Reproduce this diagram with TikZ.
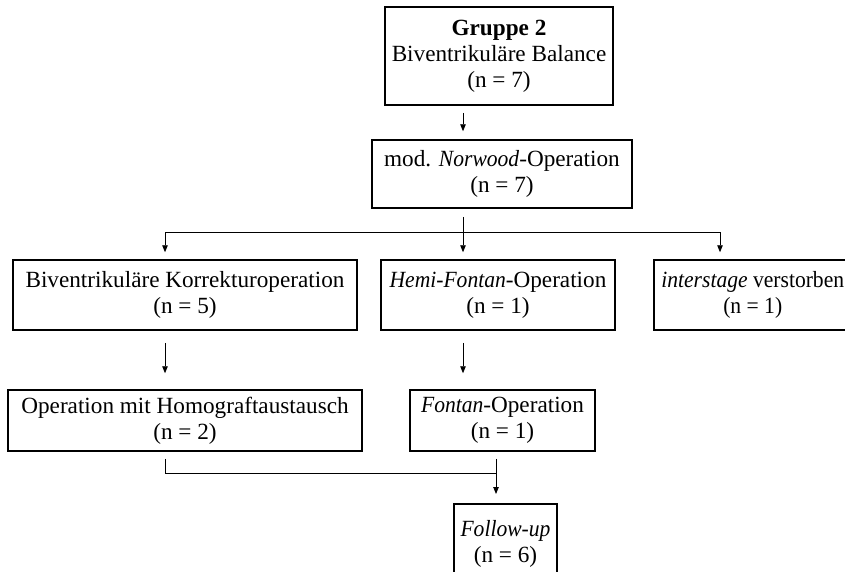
\documentclass[tikz,border=0pt]{standalone}
\usepackage{fontspec}
\setmainfont{Liberation Serif}[ItalicFeatures={FakeStretch=0.93}]
\newfontfamily\narrowserif[FakeStretch=0.93]{Liberation Serif}
\usetikzlibrary{arrows.meta}
\begin{document}
\begin{tikzpicture}[x=1pt,y=-1pt,
  box/.style={draw=black, line width=1.5pt, inner sep=0pt, align=center,
    font=\fontsize{23.2}{26}\selectfont},
  conn/.style={draw=black, line width=0.85pt},
  arr/.style={conn, -{Triangle[length=7pt,width=5.5pt]}}]
\useasboundingbox (0,0) rectangle (845,571);
\clip (0,0) rectangle (845,571);
% boxes
\node[box, minimum width=228pt, minimum height=98pt] (g) at (499,56)
  {\textbf{Gruppe 2}\\Biventrikuläre Balance\\(n = 7)};
\node[box, minimum width=260pt, minimum height=68pt] (nw) at (502,174)
  {mod. \textit{Norwood}-Operation\\(n = 7)};
\node[box, minimum width=344pt, minimum height=70pt] (bk) at (185,295)
  {Biventrikuläre Korrekturoperation\\(n = 5)};
\node[box, minimum width=234pt, minimum height=70pt] (hf) at (498,295)
  {\textit{Hemi-Fontan}-Operation\\(n = 1)};
\node[box, minimum width=198pt, minimum height=70pt, anchor=west,
  font=\narrowserif\fontsize{23.2}{26}\selectfont] (is) at (653,295)
  {\textit{interstage} verstorben\\(n = 1)};
\node[box, minimum width=354pt, minimum height=61pt] (hg) at (185,420.5)
  {Operation mit Homograftaustausch\\(n = 2)};
\node[box, minimum width=185pt, minimum height=61pt] (fo) at (502.5,420.5)
  {\textit{Fontan}-Operation\\(n = 1)};
\node[box, minimum width=103pt, minimum height=80pt, anchor=north] (fu) at (505.5,503)
  {\textit{Follow-up}\\(n = 6)};
% connector columns
\coordinate (cA) at (165,0);
\coordinate (cB) at (463,0);
\coordinate (cC) at (720,0);
\coordinate (cD) at (496,0);
\coordinate (row1) at (0,232);
\coordinate (row2) at (0,473);
% Gruppe -> Norwood
\draw[arr, shorten <=7pt, shorten >=8pt] (g.south -| cB) -- (nw.north -| cB);
% Norwood -> split
\draw[conn, shorten <=8pt] (nw.south -| cB) -- (row1 -| cB);
\draw[conn] (row1 -| cA) -- (row1 -| cC);
\draw[arr, shorten >=7pt] (row1 -| cA) -- (bk.north -| cA);
\draw[arr, shorten >=7pt] (row1 -| cB) -- (hf.north -| cB);
\draw[arr, shorten >=7pt] (row1 -| cC) -- (is.north -| cC);
% second level
\draw[arr, shorten <=12pt, shorten >=16pt] (bk.south -| cA) -- (hg.north -| cA);
\draw[arr, shorten <=12pt, shorten >=16pt] (hf.south -| cB) -- (fo.north -| cB);
% to follow-up
\draw[conn, shorten <=7pt] (hg.south -| cA) -- (row2 -| cA) -- (row2 -| cD);
\draw[arr, shorten <=7pt, shorten >=9pt] (fo.south -| cD) -- (fu.north -| cD);
\end{tikzpicture}
\end{document}
